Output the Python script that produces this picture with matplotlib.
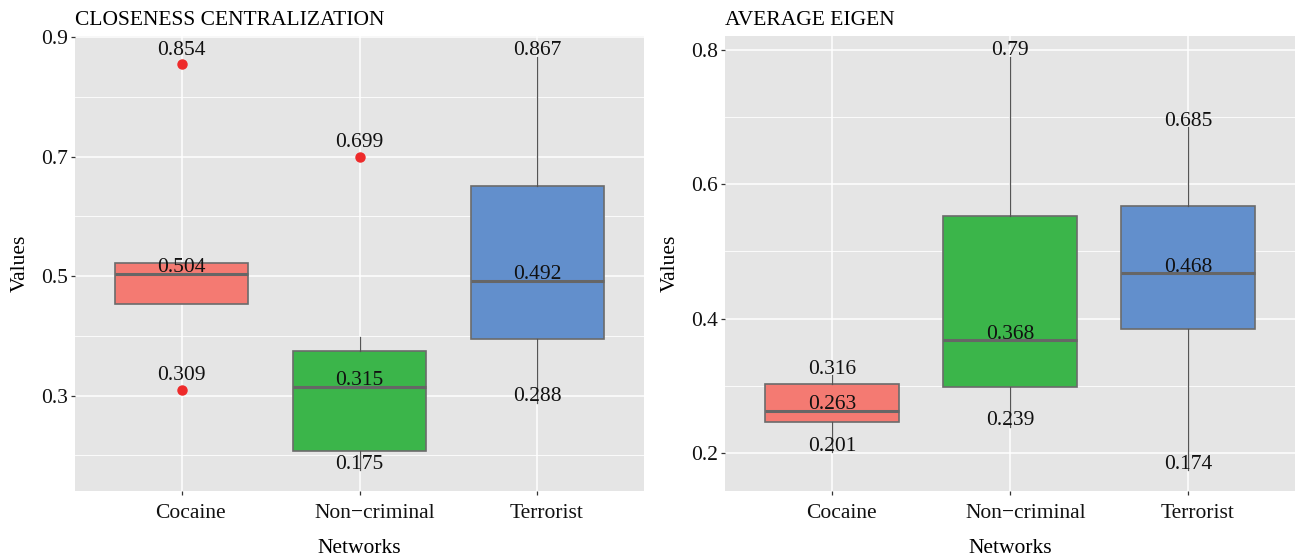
import matplotlib
matplotlib.use('agg')
import matplotlib.pyplot as plt
from matplotlib.ticker import FixedLocator
from matplotlib.transforms import ScaledTranslation

plt.rcParams['font.family'] = ['Liberation Serif', 'DejaVu Serif']

networks = ['Cocaine', 'Non\u2212criminal', 'Terrorist']
colors = ['#F47A72', '#3BB54A', '#628FCC']

# closeness centralization: box stats per network
cc_q1 = [0.453, 0.207, 0.395]
cc_med = [0.504, 0.315, 0.492]
cc_q3 = [0.522, 0.375, 0.650]
cc_lo = [0.453, 0.175, 0.288]
cc_hi = [0.522, 0.398, 0.867]
cc_out = [[0.854, 0.309], [0.699], []]
cc_labels = [[0.854, 0.504, 0.309], [0.699, 0.315, 0.175], [0.867, 0.492, 0.288]]
cc_ticks = [0.3, 0.5, 0.7, 0.9]
cc_minor = [0.2, 0.4, 0.6, 0.8]

# average eigen
ae_q1 = [0.246, 0.298, 0.384]
ae_med = [0.263, 0.368, 0.468]
ae_q3 = [0.302, 0.552, 0.568]
ae_lo = [0.201, 0.239, 0.174]
ae_hi = [0.316, 0.790, 0.685]
ae_out = [[], [], []]
ae_labels = [[0.316, 0.263, 0.201], [0.79, 0.368, 0.239], [0.685, 0.468, 0.174]]
ae_ticks = [0.2, 0.4, 0.6, 0.8]
ae_minor = [0.3, 0.5, 0.7]

FS = 15.5


def draw_panel(ax, title, q1, med, q3, lo, hi, out, labels, ticks, minor, ylim):
    stats = []
    for i in range(len(networks)):
        stats.append({'q1': q1[i], 'med': med[i], 'q3': q3[i],
                      'whislo': lo[i], 'whishi': hi[i], 'fliers': out[i]})
    pos = [1, 2, 3]
    bp = ax.bxp(stats, positions=pos, widths=0.75, patch_artist=True,
                showfliers=True, showcaps=False,
                boxprops=dict(edgecolor='#6b6b6b', linewidth=1.2),
                medianprops=dict(color='#666666', linewidth=2.2),
                whiskerprops=dict(color='#555555', linewidth=0.9),
                flierprops=dict(marker='o', markersize=6.5, markerfacecolor='#EE2A2A',
                                markeredgecolor='#EE2A2A'))
    for patch, c in zip(bp['boxes'], colors):
        patch.set_facecolor(c)

    for i in range(len(networks)):
        for v in labels[i]:
            dy = 7 if v in out[i] else 1
            ax.annotate(f'{v:g}', (pos[i], v), xytext=(0, dy), textcoords='offset points',
                        ha='center', va='baseline', fontsize=FS, color='#111111', zorder=5)

    ax.set_facecolor('#E5E5E5')
    for s in ax.spines.values():
        s.set_visible(False)
    ax.set_xlim(0.4, 3.6)
    ax.set_ylim(*ylim)
    ax.set_xticks(pos)
    ax.set_xticklabels(networks, fontsize=FS, color='#111111')
    ax.set_yticks(ticks)
    ax.set_yticklabels([f'{t:g}' for t in ticks], fontsize=FS, color='#111111')
    ax.yaxis.set_minor_locator(FixedLocator(minor))
    ax.tick_params(axis='both', which='major', length=3, width=0.9, color='#333333')
    ax.tick_params(axis='x', which='major', pad=6)
    ax.tick_params(axis='y', which='major', pad=2)
    ax.tick_params(axis='y', which='minor', length=0)
    ax.set_axisbelow(True)
    ax.grid(True, which='major', color='white', linewidth=1.1)
    ax.grid(True, which='minor', axis='y', color='white', linewidth=0.6)
    ax.set_xlabel('Networks', fontsize=FS, labelpad=12)
    ax.set_ylabel('Values', fontsize=FS, labelpad=8)
    ax.set_title(title, loc='left', fontsize=FS, pad=8)


fig = plt.figure(figsize=(12.96, 5.56), dpi=100)
ax1 = fig.add_axes([75 / 1296, 65 / 556, 569 / 1296, 455 / 556])
ax2 = fig.add_axes([725 / 1296, 65 / 556, 570 / 1296, 455 / 556])

draw_panel(ax1, 'CLOSENESS CENTRALIZATION', cc_q1, cc_med, cc_q3, cc_lo, cc_hi,
           cc_out, cc_labels, cc_ticks, cc_minor, (0.1404, 0.9016))
draw_panel(ax2, 'AVERAGE EIGEN', ae_q1, ae_med, ae_q3, ae_lo, ae_hi,
           ae_out, ae_labels, ae_ticks, ae_minor, (0.1432, 0.8208))

# category labels sit a little right of their ticks
fig.canvas.draw()
for ax in (ax1, ax2):
    for lbl in ax.get_xticklabels():
        w = lbl.get_window_extent().width
        lbl.set_transform(lbl.get_transform() + ScaledTranslation(0.13 * w / fig.dpi, 0, fig.dpi_scale_trans))

fig.savefig('out.png', dpi=100)
